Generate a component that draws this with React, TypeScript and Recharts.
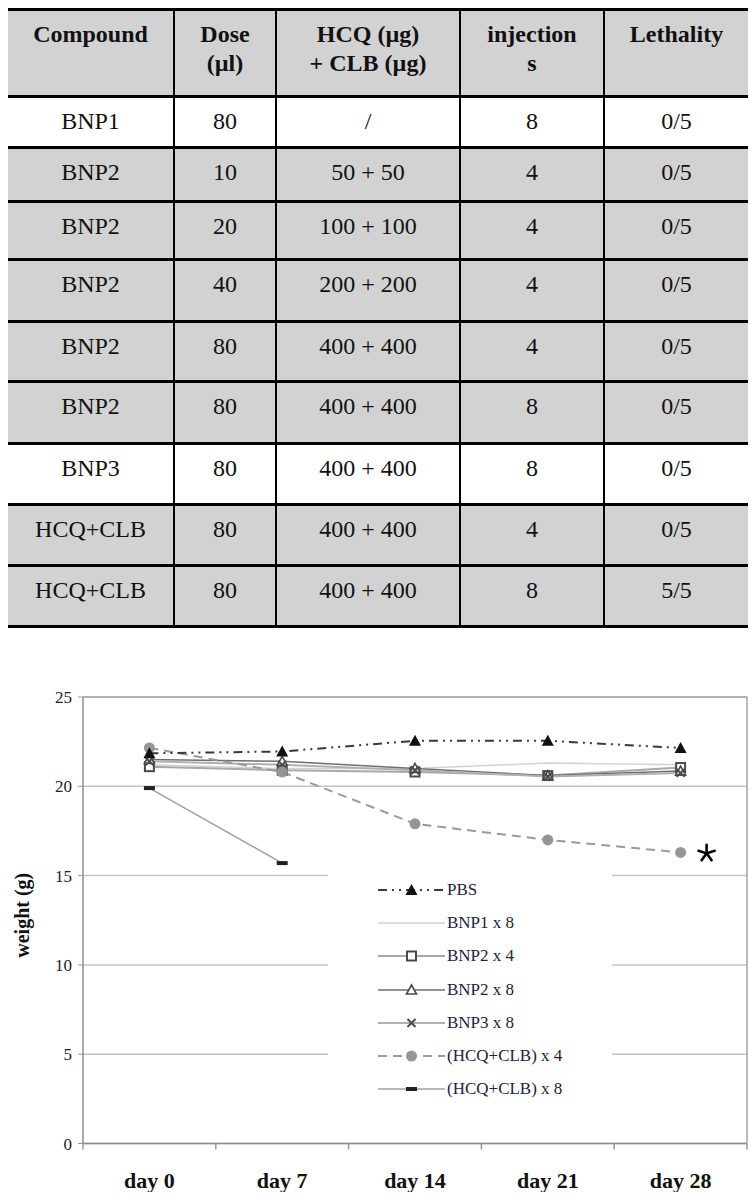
import React from 'react';
import { LineChart, Line, XAxis, YAxis, CartesianGrid, Legend, ReferenceLine, LabelList } from 'recharts';

// ---------- table data ----------
const tableHeaders = [['Compound'], ['Dose', '(µl)'], ['HCQ (µg)', '+ CLB (µg)'], ['injection', 's'], ['Lethality']];
const compounds = ['BNP1', 'BNP2', 'BNP2', 'BNP2', 'BNP2', 'BNP2', 'BNP3', 'HCQ+CLB', 'HCQ+CLB'];
const doses = ['80', '10', '20', '40', '80', '80', '80', '80', '80'];
const drugAmounts = ['/', '50 + 50', '100 + 100', '200 + 200', '400 + 400', '400 + 400', '400 + 400', '400 + 400', '400 + 400'];
const injections = ['8', '4', '4', '4', '4', '8', '8', '4', '8'];
const lethality = ['0/5', '0/5', '0/5', '0/5', '0/5', '0/5', '0/5', '0/5', '5/5'];

// ---------- chart data ----------
const days = ['day 0', 'day 7', 'day 14', 'day 21', 'day 28'];
const pbs = [21.85, 21.95, 22.55, 22.55, 22.15];
const bnp1x8 = [21.2, 21.0, 21.0, 21.3, 21.2];
const bnp2x4 = [21.1, 20.9, 20.8, 20.6, 21.05];
const bnp2x8 = [21.5, 21.4, 21.0, 20.6, 20.85];
const bnp3x8 = [21.4, 21.2, 20.9, 20.55, 20.75];
const hcqx4 = [22.15, 20.8, 17.9, 17.0, 16.3];
const hcqx8 = [19.9, 15.7, null, null, null];
const yTicks = [0, 5, 10, 15, 20, 25];
const xTicks = [-0.5, 0, 0.5, 1, 1.5, 2, 2.5, 3, 3.5, 4, 4.5];

const data = days.map((d, i) => ({
  x: i,
  day: d,
  pbs: pbs[i],
  b1: bnp1x8[i],
  b24: bnp2x4[i],
  b28: bnp2x8[i],
  b3: bnp3x8[i],
  h4: hcqx4[i],
  h8: hcqx8[i],
}));

const FONT = '"Liberation Serif", "Times New Roman", serif';

type MarkerType = 'tri' | 'square' | 'opentri' | 'x' | 'circle' | 'dash' | null;

const series: { key: string; name: string; color: string; width: number; dash?: string; marker: MarkerType }[] = [
  { key: 'pbs', name: 'PBS', color: '#3a3a3a', width: 2, dash: '9 5 2 5 2 5', marker: 'tri' },
  { key: 'b1', name: 'BNP1 x 8', color: '#d2d2d2', width: 1.5, marker: null },
  { key: 'b24', name: 'BNP2 x 4', color: '#a8a8a8', width: 2, marker: 'square' },
  { key: 'b28', name: 'BNP2 x 8', color: '#6e6e6e', width: 1.5, marker: 'opentri' },
  { key: 'b3', name: 'BNP3 x 8', color: '#b0b0b0', width: 2, marker: 'x' },
  { key: 'h4', name: '(HCQ+CLB) x 4', color: '#9a9a9a', width: 2, dash: '9 6', marker: 'circle' },
  { key: 'h8', name: '(HCQ+CLB) x 8', color: '#a0a0a0', width: 1.5, marker: 'dash' },
];

function Marker({ type, cx, cy }: { type: MarkerType; cx: number; cy: number }) {
  switch (type) {
    case 'tri':
      return <polygon points={`${cx},${cy - 6} ${cx - 6},${cy + 5} ${cx + 6},${cy + 5}`} fill="#111" />;
    case 'square':
      return <rect x={cx - 4.5} y={cy - 4.5} width={9} height={9} fill="#fff" stroke="#4a4a4a" strokeWidth={2} />;
    case 'opentri':
      return <polygon points={`${cx},${cy - 5} ${cx - 5},${cy + 4} ${cx + 5},${cy + 4}`} fill="#fff" stroke="#4a4a4a" strokeWidth={1.6} />;
    case 'x':
      return (
        <g stroke="#4a4a4a" strokeWidth={2}>
          <line x1={cx - 4} y1={cy - 4} x2={cx + 4} y2={cy + 4} />
          <line x1={cx - 4} y1={cy + 4} x2={cx + 4} y2={cy - 4} />
        </g>
      );
    case 'circle':
      return <circle cx={cx} cy={cy} r={5.5} fill="#959595" />;
    case 'dash':
      return <rect x={cx - 5.5} y={cy - 2} width={11} height={4} fill="#222" />;
    default:
      return null;
  }
}

const makeDot = (key: string, type: MarkerType) => (p: any) => {
  if (p == null || p.cx == null || p.cy == null || p.value == null || type == null) {
    return <g key={`${key}-${p && p.index}`} />;
  }
  return (
    <g key={`${key}-${p.index}`}>
      <Marker type={type} cx={p.cx} cy={p.cy} />
    </g>
  );
};

const XTick = (props: any) => {
  const { x, y, payload } = props;
  const v = payload.value;
  if (Number.isInteger(v)) {
    return (
      <text x={x} y={y + 44} textAnchor="middle" fontFamily={FONT} fontWeight="bold" fontSize={22} fill="#111">
        {days[v]}
      </text>
    );
  }
  return <line x1={x} x2={x} y1={y} y2={y + 6} stroke="#999" strokeWidth={1.5} />;
};

const YLabel = (props: any) => {
  const vb = props.viewBox || { x: 0, y: 0, width: 0, height: 0 };
  const cx = 22;
  const cy = vb.y + vb.height / 2 - 5;
  return (
    <text
      x={cx}
      y={cy}
      transform={`rotate(-90 ${cx} ${cy})`}
      textAnchor="middle"
      dominantBaseline="central"
      fontFamily={FONT}
      fontWeight="bold"
      fontSize={20}
      fill="#111"
    >
      weight (g)
    </text>
  );
};

const Asterisk = (p: any) => {
  if (p.index !== data.length - 1 || p.x == null) return null;
  const cx = p.x + 26;
  const cy = p.y + 1;
  const angles = [90, 18, 162, 234, 306];
  return (
    <g stroke="#000" strokeWidth={2.6} strokeLinecap="round">
      {angles.map((a) => {
        const r = (a * Math.PI) / 180;
        return <line key={a} x1={cx} y1={cy} x2={cx + 8.5 * Math.cos(r)} y2={cy - 8.5 * Math.sin(r)} />;
      })}
    </g>
  );
};

const LegendBox = () => (
  <div style={{ paddingTop: 11, fontFamily: FONT }}>
    {series.map((s) => (
      <div key={s.key} style={{ height: 33.3, display: 'flex', alignItems: 'center' }}>
        <svg width={69} height={20} style={{ marginLeft: 50, flex: 'none' }}>
          <line x1={0} x2={67} y1={10} y2={10} stroke={s.color} strokeWidth={s.width} strokeDasharray={s.dash} />
          {s.marker && <Marker type={s.marker} cx={33.5} cy={10} />}
        </svg>
        <span style={{ fontSize: 17, color: '#22223a', whiteSpace: 'nowrap' }}>{s.name}</span>
      </div>
    ))}
  </div>
);

const colWidths = [165, 102, 184, 144, 145];
const rowHeights = [87, 51, 54, 58, 62, 60, 62, 61, 61, 61];
const whiteRows = [0, 6];

function Table() {
  const bodyRows = compounds.map((c, i) => [c, doses[i], drugAmounts[i], injections[i], lethality[i]]);
  return (
    <div style={{ width: 740, fontFamily: FONT, color: '#111', borderBottom: '3px solid #000' }}>
      <div style={{ display: 'flex', height: rowHeights[0], boxSizing: 'border-box', borderTop: '3px solid #000', background: '#d2d2d2' }}>
        {tableHeaders.map((h, j) => (
          <div
            key={j}
            style={{
              width: colWidths[j],
              boxSizing: 'border-box',
              borderLeft: j === 0 ? 'none' : '2px solid #000',
              textAlign: 'center',
              fontWeight: 'bold',
              fontSize: 24,
              lineHeight: '29px',
              paddingTop: 9,
            }}
          >
            {h.map((line, k) => (
              <div key={k}>{line}</div>
            ))}
          </div>
        ))}
      </div>
      {bodyRows.map((row, i) => (
        <div
          key={i}
          style={{
            display: 'flex',
            height: rowHeights[i + 1],
            boxSizing: 'border-box',
            borderTop: '3px solid #000',
            background: whiteRows.includes(i) ? '#fff' : '#d2d2d2',
          }}
        >
          {row.map((cell, j) => (
            <div
              key={j}
              style={{
                width: colWidths[j],
                boxSizing: 'border-box',
                borderLeft: j === 0 ? 'none' : '2px solid #000',
                textAlign: 'center',
                fontSize: 24,
                lineHeight: '29px',
                paddingTop: 9,
              }}
            >
              {cell}
            </div>
          ))}
        </div>
      ))}
    </div>
  );
}

export default function App() {
  return (
    <div style={{ position: 'relative', width: 740, height: 1184 }}>
      <Table />
      <div style={{ position: 'absolute', left: -8, top: 672 }}>
        <LineChart width={756} height={520} data={data} margin={{ top: 17, right: 9, left: 0, bottom: 6.5 }} style={{ fontFamily: FONT }}>
          <CartesianGrid horizontal vertical={false} stroke="#c4c4c4" strokeWidth={1.5} />
          <XAxis
            dataKey="x"
            type="number"
            domain={[-0.5, 4.5]}
            ticks={xTicks}
            interval={0}
            tickLine={false}
            tickSize={0}
            tickMargin={0}
            height={50}
            axisLine={{ stroke: '#8c8c8c', strokeWidth: 1.5 }}
            tick={<XTick />}
          />
          <YAxis
            domain={[0, 25]}
            ticks={yTicks}
            interval={0}
            width={83}
            tickSize={5}
            tickMargin={6}
            tickLine={{ stroke: '#999' }}
            axisLine={{ stroke: '#8c8c8c', strokeWidth: 1.5 }}
            tick={{ fontSize: 17, fill: '#222', fontFamily: FONT }}
            label={<YLabel />}
          />
          <ReferenceLine y={25} stroke="#a4a4a4" strokeWidth={1.5} />
          <ReferenceLine x={4.5} stroke="#a4a4a4" strokeWidth={1.5} />
          <Legend
            layout="horizontal"
            verticalAlign="middle"
            align="center"
            content={<LegendBox />}
            wrapperStyle={{ left: 328, top: 182, width: 284, height: 243, background: '#fff' }}
          />
          {[...series.slice(1), series[0]].map((s) => (
            <Line
              key={s.key}
              dataKey={s.key}
              name={s.name}
              type="linear"
              stroke={s.color}
              strokeWidth={s.width}
              strokeDasharray={s.dash}
              dot={makeDot(s.key, s.marker)}
              activeDot={false}
              connectNulls={false}
              isAnimationActive={false}
            >
              {s.key === 'h4' && <LabelList dataKey="h4" content={<Asterisk />} />}
            </Line>
          ))}
        </LineChart>
      </div>
    </div>
  );
}
